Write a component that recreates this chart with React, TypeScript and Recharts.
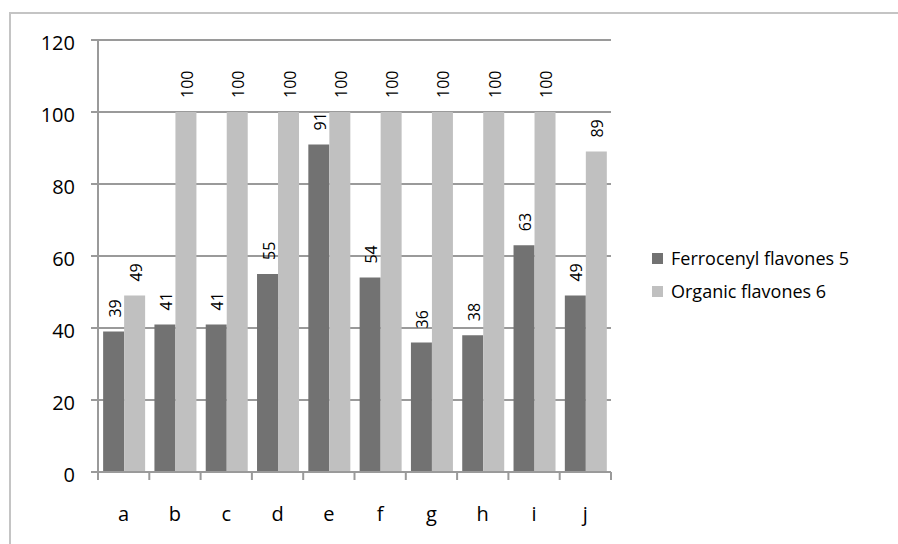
import { BarChart, Bar, XAxis, YAxis, CartesianGrid, LabelList } from 'recharts'

const categories = ['a', 'b', 'c', 'd', 'e', 'f', 'g', 'h', 'i', 'j']
const ferrocenyl = [39, 41, 41, 55, 91, 54, 36, 38, 63, 49]
const organic = [49, 100, 100, 100, 100, 100, 100, 100, 100, 89]
const yTicks = [0, 20, 40, 60, 80, 100, 120]
const seriesNames = ['Ferrocenyl flavones 5', 'Organic flavones 6']

const DARK = '#727272'
const LIGHT = '#c0c0c0'
const AXIS = '#9a9a9a'
const FONT = "'Open Sans', sans-serif"

const PLOT_LEFT = 98
const PLOT_RIGHT = 611
const BAND = (PLOT_RIGHT - PLOT_LEFT) / categories.length

const data = categories.map((c, i) => ({
  name: c,
  ferro: ferrocenyl[i],
  organic: organic[i],
}))

function XTick(props: any) {
  const { x, y, payload, index } = props
  const last = index === categories.length - 1
  return (
    <g>
      <line x1={x - BAND / 2} x2={x - BAND / 2} y1={y} y2={y + 8} stroke={AXIS} strokeWidth={2} />
      {last && <line x1={x + BAND / 2} x2={x + BAND / 2} y1={y} y2={y + 8} stroke={AXIS} strokeWidth={2} />}
      <text x={x} y={y + 49} textAnchor="middle" fill="#000" fontSize={20} fontFamily={FONT}>
        {payload.value}
      </text>
    </g>
  )
}

function RotLabel(props: any) {
  const { x, y, width, value } = props
  return (
    <text
      transform={`translate(${x + width / 2 + 1}, ${y - 14}) rotate(-90)`}
      textAnchor="start"
      dominantBaseline="central"
      fill="#000"
      fontSize={16}
      fontFamily={FONT}
    >
      {value}
    </text>
  )
}

export default function App() {
  return (
    <div style={{ position: 'absolute', left: 0, top: 0, width: 898, height: 544, background: '#fff', fontFamily: FONT }}>
      <div
        style={{
          position: 'absolute',
          left: 9,
          top: 12,
          width: 898 - 9,
          height: 544 - 12,
          borderLeft: '2px solid #c4c4c4',
          borderTop: '2px solid #c4c4c4',
        }}
      />
      <div style={{ position: 'absolute', left: 0, top: 0 }}>
        <BarChart
          width={898}
          height={544}
          data={data}
          margin={{ top: 40, right: 898 - PLOT_RIGHT, bottom: 32, left: PLOT_LEFT - 60 }}
          barCategoryGap="10%"
          barGap={0}
        >
          <CartesianGrid vertical={false} stroke={AXIS} strokeWidth={2} />
          <XAxis
            dataKey="name"
            axisLine={{ stroke: AXIS, strokeWidth: 2 }}
            tickLine={false}
            tickSize={0}
            tickMargin={0}
            height={40}
            interval={0}
            tick={<XTick />}
          />
          <YAxis
            domain={[0, 120]}
            ticks={yTicks}
            width={60}
            axisLine={{ stroke: AXIS, strokeWidth: 2 }}
            tickLine={{ stroke: AXIS, strokeWidth: 2 }}
            tickSize={7}
            tickMargin={16}
            tick={{ fill: '#000', fontSize: 20, fontFamily: FONT, dy: 3 }}
          />
          <Bar dataKey="ferro" name={seriesNames[0]} fill={DARK} isAnimationActive={false}>
            <LabelList dataKey="ferro" content={<RotLabel />} />
          </Bar>
          <Bar dataKey="organic" name={seriesNames[1]} fill={LIGHT} isAnimationActive={false}>
            <LabelList dataKey="organic" content={<RotLabel />} />
          </Bar>
        </BarChart>
      </div>
      {seriesNames.map((n, i) => (
        <div
          key={n}
          style={{
            position: 'absolute',
            left: 652,
            top: 245 + i * 33,
            height: 26,
            display: 'flex',
            alignItems: 'center',
            fontSize: 18,
            color: '#000',
            whiteSpace: 'nowrap',
          }}
        >
          <span style={{ display: 'inline-block', width: 11, height: 11, background: i === 0 ? DARK : LIGHT, marginRight: 8 }} />
          {n}
        </div>
      ))}
    </div>
  )
}
